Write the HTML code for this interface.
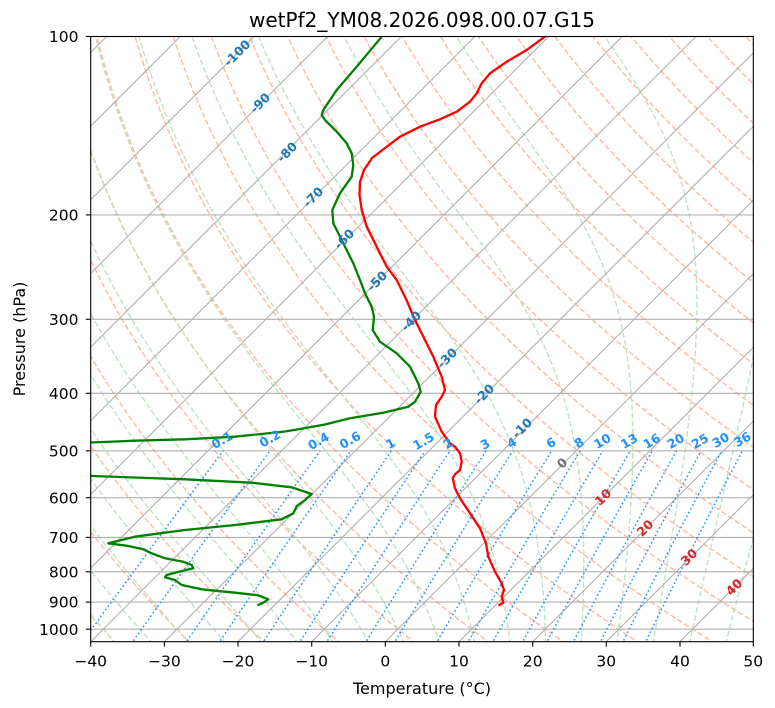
<!DOCTYPE html>
<html><head><meta charset="utf-8"><style>
html,body{margin:0;padding:0;background:#fff;}
svg{display:block;font-family:"DejaVu Sans","Liberation Sans",sans-serif;}
</style></head><body>
<svg id="s" width="775" height="708" viewBox="0 0 775 708" xmlns="http://www.w3.org/2000/svg">
<defs><clipPath id="c"><rect x="90.7" y="36.5" width="662.6" height="605.2"/></clipPath></defs>
<rect width="775" height="708" fill="#fff"/>
<g id="bg" clip-path="url(#c)" fill="none"></g>
<g clip-path="url(#c)" stroke="#b0b0b0" stroke-width="1.1" fill="none">
<line x1="-498.6" y1="641.7" x2="106.6" y2="36.5"/>
<line x1="-424.9" y1="641.7" x2="180.3" y2="36.5"/>
<line x1="-351.3" y1="641.7" x2="253.9" y2="36.5"/>
<line x1="-277.6" y1="641.7" x2="327.6" y2="36.5"/>
<line x1="-203.9" y1="641.7" x2="401.3" y2="36.5"/>
<line x1="-130.3" y1="641.7" x2="474.9" y2="36.5"/>
<line x1="-56.6" y1="641.7" x2="548.6" y2="36.5"/>
<line x1="17.0" y1="641.7" x2="622.2" y2="36.5"/>
<line x1="90.7" y1="641.7" x2="695.9" y2="36.5"/>
<line x1="164.4" y1="641.7" x2="769.6" y2="36.5"/>
<line x1="238.0" y1="641.7" x2="843.2" y2="36.5"/>
<line x1="311.7" y1="641.7" x2="916.9" y2="36.5"/>
<line x1="385.3" y1="641.7" x2="990.5" y2="36.5"/>
<line x1="459.0" y1="641.7" x2="1064.2" y2="36.5"/>
<line x1="532.7" y1="641.7" x2="1137.9" y2="36.5"/>
<line x1="606.3" y1="641.7" x2="1211.5" y2="36.5"/>
<line x1="680.0" y1="641.7" x2="1285.2" y2="36.5"/>
<line x1="90.7" y1="214.9" x2="753.3" y2="214.9"/>
<line x1="90.7" y1="319.3" x2="753.3" y2="319.3"/>
<line x1="90.7" y1="393.3" x2="753.3" y2="393.3"/>
<line x1="90.7" y1="450.8" x2="753.3" y2="450.8"/>
<line x1="90.7" y1="497.7" x2="753.3" y2="497.7"/>
<line x1="90.7" y1="537.4" x2="753.3" y2="537.4"/>
<line x1="90.7" y1="571.8" x2="753.3" y2="571.8"/>
<line x1="90.7" y1="602.1" x2="753.3" y2="602.1"/>
<line x1="90.7" y1="629.2" x2="753.3" y2="629.2"/>
</g>
<g id="mix" clip-path="url(#c)" fill="none"></g>

<g clip-path="url(#c)" fill="none" stroke-width="2.3" stroke-linejoin="round" stroke-linecap="round">
<polyline stroke="#ff0000" points="548,33 545,36.5 526.7,50 506.7,61.7 490,73.3 481.7,83.3 476.7,93.3 470,101.7 456.7,111.7 440,119.3 420,126.7 400,136.7 385,148 372,158 364,170 360,182 359.5,195 361.7,210 366.7,226.7 376.7,246.7 386.7,266.7 396.7,280 406.5,300 415,320 425,340 433.3,356.7 441.7,376.7 445,390 441.7,396.7 436,405 435,416.7 441.7,431.7 450,443.3 455,446.7 460,453.3 461.7,461.7 460,470 455,474.3 452.7,478.3 455,488.3 460,498.3 470,513.3 480,528.3 486,543.3 488.3,556.7 495,571.7 501.7,583.3 504,590 501.7,596.7 503.3,602.7 499.3,605"/>
<polyline stroke="#008000" points="384,33 381.7,36.7 356.7,66.7 336.7,90 323.3,110 321.7,115 325,120 336.7,131.7 346.7,143.3 351.7,153.3 353.3,165 351.7,176.7 340,193.3 332.3,210 333.3,223.3 336.7,230 343.3,243.3 353.3,263.3 360,280 365,293.3 371.7,306.7 374,316.7 372.7,330 380,341.7 396.7,353.3 410,366.7 418.3,383.3 420.7,391.7 415,401.7 408.3,406.7 383.3,412.7 350,418.3 325,424.5 300,429 285,431.5 235,436.7 185,439.3 135,440.7 90.7,442.5 40,444 20,460 40,475.5 91.7,476 185,479.3 251.7,482.7 291.7,487.3 311.7,494 305,500 296.7,506 293.3,513.3 281.7,519.3 235,525 185,530 135,536.7 108.3,543.3 128.3,546 143.3,549.3 151.7,553.3 165,558.3 183.3,561.7 191.7,565 193.3,568.3 181.7,571 166.7,575 165,577.3 175,580 181.7,585 201.7,589.3 235,592.7 258.3,595.3 268.3,599.3 265,601.7 258.3,605"/>
</g>

<g font-size="12.5" font-weight="bold" text-anchor="middle" dominant-baseline="central">
<text x="237" y="53" fill="#1f77b4" transform="rotate(-45 237 53)">-100</text>
<text x="260" y="103" fill="#1f77b4" transform="rotate(-45 260 103)">-90</text>
<text x="287" y="152" fill="#1f77b4" transform="rotate(-45 287 152)">-80</text>
<text x="313" y="197" fill="#1f77b4" transform="rotate(-45 313 197)">-70</text>
<text x="344" y="239" fill="#1f77b4" transform="rotate(-45 344 239)">-60</text>
<text x="377" y="281" fill="#1f77b4" transform="rotate(-45 377 281)">-50</text>
<text x="411" y="321" fill="#1f77b4" transform="rotate(-45 411 321)">-40</text>
<text x="447" y="358" fill="#1f77b4" transform="rotate(-45 447 358)">-30</text>
<text x="484" y="394" fill="#1f77b4" transform="rotate(-45 484 394)">-20</text>
<text x="522" y="428" fill="#1f77b4" transform="rotate(-45 522 428)">-10</text>
<text x="562" y="463" fill="#707070" transform="rotate(-45 562 463)">0</text>
<text x="603" y="497" fill="#d62728" transform="rotate(-45 603 497)">10</text>
<text x="645" y="528" fill="#d62728" transform="rotate(-45 645 528)">20</text>
<text x="689" y="557" fill="#d62728" transform="rotate(-45 689 557)">30</text>
<text x="734" y="587" fill="#d62728" transform="rotate(-45 734 587)">40</text>
</g>
<g font-size="12.5" font-weight="bold" text-anchor="middle" dominant-baseline="central" fill="#1e90ff">
<text x="222" y="440" transform="rotate(-30 222 440)">0.1</text>
<text x="270" y="438.5" transform="rotate(-30 270 438.5)">0.2</text>
<text x="318.5" y="441" transform="rotate(-30 318.5 441)">0.4</text>
<text x="350" y="440" transform="rotate(-30 350 440)">0.6</text>
<text x="390.5" y="443.3" transform="rotate(-30 390.5 443.3)">1</text>
<text x="423.5" y="441" transform="rotate(-30 423.5 441)">1.5</text>
<text x="448" y="443.3" transform="rotate(-30 448 443.3)">2</text>
<text x="485" y="444" transform="rotate(-30 485 444)">3</text>
<text x="511.7" y="442.7" transform="rotate(-30 511.7 442.7)">4</text>
<text x="551" y="442.7" transform="rotate(-30 551 442.7)">6</text>
<text x="579" y="442.7" transform="rotate(-30 579 442.7)">8</text>
<text x="602.3" y="441" transform="rotate(-30 602.3 441)">10</text>
<text x="629" y="441" transform="rotate(-30 629 441)">13</text>
<text x="651.7" y="441" transform="rotate(-30 651.7 441)">16</text>
<text x="675.7" y="441" transform="rotate(-30 675.7 441)">20</text>
<text x="700" y="441" transform="rotate(-30 700 441)">25</text>
<text x="720.7" y="440" transform="rotate(-30 720.7 440)">30</text>
<text x="742.3" y="439.3" transform="rotate(-30 742.3 439.3)">36</text>
</g>

<rect x="90.7" y="36.5" width="662.6" height="605.2" fill="none" stroke="#000" stroke-width="1.1"/>
<g stroke="#000" stroke-width="1.1">
<line x1="85.8" y1="36.5" x2="90.7" y2="36.5"/>
<line x1="85.8" y1="214.9" x2="90.7" y2="214.9"/>
<line x1="85.8" y1="319.3" x2="90.7" y2="319.3"/>
<line x1="85.8" y1="393.3" x2="90.7" y2="393.3"/>
<line x1="85.8" y1="450.8" x2="90.7" y2="450.8"/>
<line x1="85.8" y1="497.7" x2="90.7" y2="497.7"/>
<line x1="85.8" y1="537.4" x2="90.7" y2="537.4"/>
<line x1="85.8" y1="571.8" x2="90.7" y2="571.8"/>
<line x1="85.8" y1="602.1" x2="90.7" y2="602.1"/>
<line x1="85.8" y1="629.2" x2="90.7" y2="629.2"/>
<line x1="90.7" y1="641.7" x2="90.7" y2="646.6"/>
<line x1="164.4" y1="641.7" x2="164.4" y2="646.6"/>
<line x1="238.0" y1="641.7" x2="238.0" y2="646.6"/>
<line x1="311.7" y1="641.7" x2="311.7" y2="646.6"/>
<line x1="385.3" y1="641.7" x2="385.3" y2="646.6"/>
<line x1="459.0" y1="641.7" x2="459.0" y2="646.6"/>
<line x1="532.7" y1="641.7" x2="532.7" y2="646.6"/>
<line x1="606.3" y1="641.7" x2="606.3" y2="646.6"/>
<line x1="680.0" y1="641.7" x2="680.0" y2="646.6"/>
<line x1="753.3" y1="641.7" x2="753.3" y2="646.6"/>
</g>
<g font-size="15.5" fill="#000" text-anchor="end">
<text x="78.5" y="42.1">100</text>
<text x="78.5" y="220.5">200</text>
<text x="78.5" y="324.9">300</text>
<text x="78.5" y="398.9">400</text>
<text x="78.5" y="456.4">500</text>
<text x="78.5" y="503.3">600</text>
<text x="78.5" y="543.0">700</text>
<text x="78.5" y="577.4">800</text>
<text x="78.5" y="607.7">900</text>
<text x="78.5" y="634.8">1000</text>
</g>
<g font-size="15.5" fill="#000" text-anchor="middle">
<text x="90.7" y="666.6">−40</text>
<text x="164.4" y="666.6">−30</text>
<text x="238.0" y="666.6">−20</text>
<text x="311.7" y="666.6">−10</text>
<text x="385.3" y="666.6">0</text>
<text x="459.0" y="666.6">10</text>
<text x="532.7" y="666.6">20</text>
<text x="606.3" y="666.6">30</text>
<text x="680.0" y="666.6">40</text>
<text x="753.3" y="666.6">50</text>
</g>
<text x="422" y="694" font-size="16" text-anchor="middle" fill="#000">Temperature (°C)</text>
<text x="0" y="0" font-size="16" text-anchor="middle" fill="#000" transform="translate(25 339) rotate(-90)">Pressure (hPa)</text>
<text x="422" y="27" font-size="20" text-anchor="middle" fill="#000">wetPf2_YM08.2026.098.00.07.G15</text>
</svg>
<script>
(function(){
var NS="http://www.w3.org/2000/svg";
var X0=90.7,S=7.366,YB=641.7,YT=36.5,DEC=592.7;
function yp(p){return YT+DEC*Math.log(p/100)/Math.LN10;}
function xp(T,p){return X0+(T+40)*S+(YB-yp(p));}
var bg=document.getElementById('bg');
function poly(parent,pts,stroke,dash,w){
  var e=document.createElementNS(NS,'polyline');
  e.setAttribute('points',pts.map(function(q){return q[0].toFixed(1)+','+q[1].toFixed(1);}).join(' '));
  e.setAttribute('stroke',stroke);e.setAttribute('stroke-width',w);
  e.setAttribute('stroke-dasharray',dash);e.setAttribute('fill','none');
  parent.appendChild(e);
}
for(var t0=-40;t0<=260;t0+=10){
  var pts=[];
  for(var p=1060;p>=95;p-=5){
    var T=(t0+273.15)*Math.pow(p/1000,0.2857)-273.15;
    pts.push([xp(T,p),yp(p)]);
  }
  poly(bg,pts,'#fdb9a2','5.5 2.6',1.4);
}
function dTdp(p,T){
  var Rd=287.04749,Cp=1004.6662,Lv=2.50084e6,eps=0.621957;
  var Tc=T-273.15;
  var es=6.112*Math.exp(17.67*Tc/(Tc+243.5));
  var rs=eps*es/(p-es);
  return (1/p)*(Rd*T+Lv*rs)/(Cp+(Lv*Lv*rs*eps)/(Rd*T*T));
}
function integ(T,p0,p1,h){
  var out=[];var p=p0;var n=Math.round(Math.abs(p1-p0)/Math.abs(h));
  out.push([p,T]);
  for(var i=0;i<n;i++){
    var k1=dTdp(p,T),k2=dTdp(p+h/2,T+h/2*k1),k3=dTdp(p+h/2,T+h/2*k2),k4=dTdp(p+h,T+h*k3);
    T+=h/6*(k1+2*k2+2*k3+k4);p+=h;out.push([p,T]);
  }
  return out;
}
for(var m=-40;m<=60;m+=5){
  var down=integ(m+273.15,1000,1060,5);
  var up=integ(m+273.15,1000,95,-5);
  var all=down.reverse().concat(up.slice(1));
  var pts2=all.map(function(q){return [xp(q[1]-273.15,q[0]),yp(q[0])];});
  poly(bg,pts2,'#bfe2bf','5.5 2.6',1.4);
}
var mix=document.getElementById('mix');
var ws=[0.1,0.2,0.4,0.6,1,1.5,2,3,4,6,8,10,13,16,20,25,30,36];
ws.forEach(function(w){
  var r=w/1000,pts=[];
  for(var p=1060;p>=500;p-=10){
    var e=p*r/(0.621957+r);var v=Math.log(e/6.112);
    var Td=243.5*v/(17.67-v);
    pts.push([xp(Td,p),yp(p)]);
  }
  poly(mix,pts,'#1e90ff','1.6 2.6',1.5);
});
})();
</script>
</body></html>
